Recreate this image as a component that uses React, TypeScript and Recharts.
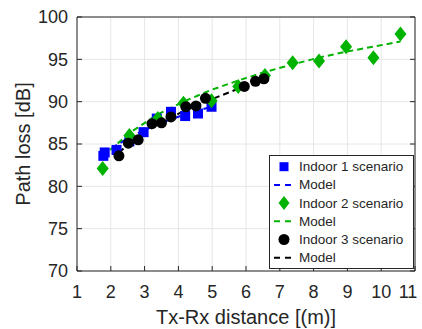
import React from 'react';
import { ComposedChart, Scatter, Line, XAxis, YAxis, CartesianGrid } from 'recharts';

// Indoor 1 scenario
const dist1 = [1.78, 1.82, 2.17, 2.55, 2.97, 3.36, 3.78, 4.2, 4.58, 4.98];
const loss1 = [83.6, 84.0, 84.3, 85.3, 86.4, 88.0, 88.8, 88.3, 88.6, 89.4];
const modelDist1 = [1.78, 2.55, 3.36, 4.2, 4.98];
const modelLoss1 = [83.9, 85.8, 87.3, 88.5, 89.4];

// Indoor 2 scenario
const dist2 = [1.76, 2.55, 3.39, 4.15, 4.98, 5.77, 6.56, 7.38, 8.16, 8.96, 9.77, 10.57];
const loss2 = [82.1, 86.0, 88.0, 89.8, 90.1, 91.8, 93.1, 94.6, 94.8, 96.5, 95.2, 98.0];
const modelLoss2 = [83.5, 86.3, 88.5, 90.0, 91.4, 92.5, 93.5, 94.4, 95.2, 95.9, 96.5, 97.1];

// Indoor 3 scenario
const dist3 = [2.24, 2.52, 2.81, 3.22, 3.5, 3.78, 4.22, 4.52, 4.8, 5.95, 6.28, 6.53];
const loss3 = [83.6, 85.1, 85.5, 87.4, 87.5, 88.2, 89.4, 89.5, 90.4, 91.8, 92.4, 92.7];
const modelDist3 = [2.24, 2.81, 3.5, 4.22, 4.8, 5.95, 6.53];
const modelLoss3 = [84.0, 85.9, 87.6, 89.0, 90.0, 91.8, 92.6];

const xTicks = [1, 2, 3, 4, 5, 6, 7, 8, 9, 10, 11];
const yTicks = [70, 75, 80, 85, 90, 95, 100];

const legendItems = ['Indoor 1 scenario', 'Model', 'Indoor 2 scenario', 'Model', 'Indoor 3 scenario', 'Model'];

const zip = (xs: number[], ys: number[]) => xs.map((x, i) => ({ x, y: ys[i] }));

const BLUE = '#0000ff';
const GREEN = '#00b300';
const BLACK = '#000000';
const AXIS = '#262626';
const FONT = '"Liberation Sans", Arial, Helvetica, sans-serif';

const Square = (p: any) => <rect x={p.cx - 5} y={p.cy - 5} width={10} height={10} fill={BLUE} />;
const Diamond = (p: any) => (
  <path d={`M${p.cx},${p.cy - 7.5} L${p.cx + 6},${p.cy} L${p.cx},${p.cy + 7.5} L${p.cx - 6},${p.cy} Z`} fill={GREEN} />
);
const Dot = (p: any) => <circle cx={p.cx} cy={p.cy} r={5.5} fill={BLACK} />;

// last label sits a bit inward so it stays inside the picture
const XTick = (p: any) => {
  const last = p.payload.value === xTicks[xTicks.length - 1];
  return (
    <text x={p.x - (last ? 7 : 0)} y={p.y} dy={13} textAnchor="middle" fontSize={18} fill={AXIS} fontFamily={FONT}>
      {p.payload.value}
    </text>
  );
};

function LegendBox() {
  const rowY = (i: number) => 11.7 + i * 18.2;
  const sym = 15;
  return (
    <svg width={145} height={114} style={{ display: 'block' }}>
      <rect x={0.5} y={0.5} width={144} height={113} fill="#fff" stroke={AXIS} />
      {legendItems.map((label, i) => {
        const y = rowY(i);
        let icon = null;
        if (i === 0) icon = <rect x={sym - 4.5} y={y - 4.5} width={9} height={9} fill={BLUE} />;
        if (i === 2) icon = <path d={`M${sym},${y - 7} L${sym + 5.5},${y} L${sym},${y + 7} L${sym - 5.5},${y} Z`} fill={GREEN} />;
        if (i === 4) icon = <circle cx={sym} cy={y} r={5.5} fill={BLACK} />;
        if (i % 2 === 1) {
          const c = i === 1 ? BLUE : i === 3 ? GREEN : BLACK;
          icon = <line x1={sym - 10} x2={sym + 10} y1={y} y2={y} stroke={c} strokeWidth={2} strokeDasharray="6 5" />;
        }
        return (
          <g key={i}>
            {icon}
            <text x={30} y={y} dominantBaseline="central" fontSize={13.5} fill={AXIS} fontFamily={FONT}>{label}</text>
          </g>
        );
      })}
    </svg>
  );
}

export default function App() {
  return (
    <div style={{ position: 'absolute', left: 0, top: 0, width: 422, height: 329, background: '#fff' }}>
      <ComposedChart width={422} height={329} margin={{ top: 16, right: 6, left: 0, bottom: 0 }}>
        <CartesianGrid stroke="#e6e6e6" />
        <XAxis
          type="number"
          dataKey="x"
          domain={[1, 11]}
          ticks={xTicks}
          interval={0}
          allowDataOverflow
          height={58}
          stroke={AXIS}
          tickSize={-5}
          tickMargin={19}
          tick={<XTick />}
          label={{
            content: () => (
              <text x={246} y={324} textAnchor="middle" fontSize={20} fill={AXIS} fontFamily={FONT}>Tx-Rx distance [(m)]</text>
            ),
          }}
        />
        <XAxis
          xAxisId="top"
          orientation="top"
          type="number"
          domain={[1, 11]}
          ticks={xTicks}
          interval={0}
          allowDataOverflow
          height={1}
          stroke={AXIS}
          tickSize={-5}
          tickFormatter={() => ''}
        />
        <YAxis
          type="number"
          dataKey="y"
          domain={[70, 100]}
          ticks={yTicks}
          interval={0}
          allowDataOverflow
          width={77}
          stroke={AXIS}
          tickSize={-5}
          tickMargin={14}
          tick={{ fill: AXIS, fontSize: 18, fontFamily: FONT }}
          label={{
            content: () => (
              <text x={23} y={144} transform="rotate(-90 23 144)" textAnchor="middle" dominantBaseline="central" fontSize={20} fill={AXIS} fontFamily={FONT}>Path loss [dB]</text>
            ),
          }}
        />
        <YAxis
          yAxisId="right"
          orientation="right"
          type="number"
          domain={[70, 100]}
          ticks={yTicks}
          interval={0}
          allowDataOverflow
          width={1}
          stroke={AXIS}
          tickSize={-5}
          tickFormatter={() => ''}
        />
        <Scatter name="Indoor 1 scenario" data={zip(dist1, loss1)} dataKey="y" shape={Square} isAnimationActive={false} />
        <Line name="Model 1" data={zip(modelDist1, modelLoss1)} dataKey="y" type="linear" stroke={BLUE} strokeWidth={2} strokeDasharray="6 4" dot={false} activeDot={false} isAnimationActive={false} />
        <Scatter name="Indoor 2 scenario" data={zip(dist2, loss2)} dataKey="y" shape={Diamond} isAnimationActive={false} />
        <Line name="Model 2" data={zip(dist2, modelLoss2)} dataKey="y" type="linear" stroke={GREEN} strokeWidth={2} strokeDasharray="6 4" dot={false} activeDot={false} isAnimationActive={false} />
        <Scatter name="Indoor 3 scenario" data={zip(dist3, loss3)} dataKey="y" shape={Dot} isAnimationActive={false} />
        <Line name="Model 3" data={zip(modelDist3, modelLoss3)} dataKey="y" type="linear" stroke={BLACK} strokeWidth={2} strokeDasharray="6 4" dot={false} activeDot={false} isAnimationActive={false} />
      </ComposedChart>
      <div style={{ position: 'absolute', left: 269, top: 155 }}>
        <LegendBox />
      </div>
    </div>
  );
}
